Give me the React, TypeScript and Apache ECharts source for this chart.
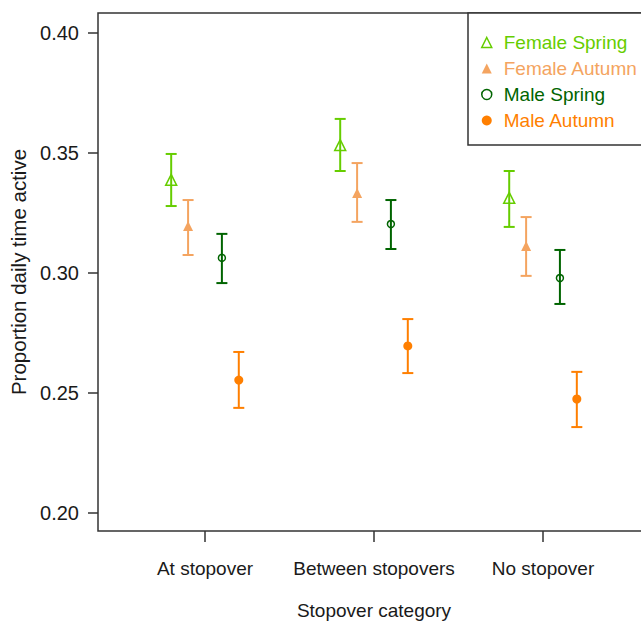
import React, { useEffect, useRef } from "react";
import * as echarts from "echarts";

const categories = ["At stopover", "Between stopovers", "No stopover"];
const seriesNames = ["Female Spring", "Female Autumn", "Male Spring", "Male Autumn"];
const seriesOffsets = [-0.2, -0.1, 0.1, 0.2];
const seriesColors = ["#66CD00", "#F4A460", "#006400", "#FF7F00"];
const seriesSymbols = ["triangle", "triangle", "circle", "circle"];
const seriesHollow = [true, false, true, false];
const seriesSymbolSizes = [11, 10, 7, 9];

// means, lower and upper error bounds per category
const femaleSpringMean = [0.3388, 0.3533, 0.3313];
const femaleSpringLow = [0.3279, 0.3425, 0.3192];
const femaleSpringHigh = [0.3496, 0.3642, 0.3425];

const femaleAutumnMean = [0.3196, 0.3333, 0.3113];
const femaleAutumnLow = [0.3075, 0.3213, 0.2988];
const femaleAutumnHigh = [0.3304, 0.3458, 0.3233];

const maleSpringMean = [0.3063, 0.3204, 0.2979];
const maleSpringLow = [0.2958, 0.31, 0.2871];
const maleSpringHigh = [0.3163, 0.3304, 0.3096];

const maleAutumnMean = [0.2554, 0.2696, 0.2475];
const maleAutumnLow = [0.2438, 0.2583, 0.2358];
const maleAutumnHigh = [0.2671, 0.2808, 0.2588];

const yTicks = [0.2, 0.25, 0.3, 0.35, 0.4];
const xTicks = [1, 2, 3];

const means = [femaleSpringMean, femaleAutumnMean, maleSpringMean, maleAutumnMean];
const lows = [femaleSpringLow, femaleAutumnLow, maleSpringLow, maleAutumnLow];
const highs = [femaleSpringHigh, femaleAutumnHigh, maleSpringHigh, maleAutumnHigh];

const FONT = "'Liberation Sans', Arial, sans-serif";
const AXIS_COLOR = "#333333";
const TEXT_COLOR = "#1a1a1a";
const FS = 19;

function markerStyle(s: number) {
  return {
    color: seriesHollow[s] ? "transparent" : seriesColors[s],
    borderColor: seriesColors[s],
    borderWidth: seriesHollow[s] ? 1.5 : 0,
    opacity: 1,
  };
}

export default function App() {
  const ref = useRef<HTMLDivElement>(null);
  useEffect(() => {
    if (!ref.current) return;
    const chart = echarts.init(ref.current, null, { renderer: "svg" });

    const errSeries = seriesNames.map((name, s) => ({
      type: "custom",
      name: name + " error",
      data: categories.map((_, i) => [i + 1 + seriesOffsets[s], lows[s][i], highs[s][i]]),
      encode: { x: 0, y: [1, 2] },
      z: 2,
      silent: true,
      renderItem: (params: any, api: any) => {
        const x = api.value(0);
        const lo = api.coord([x, api.value(1)]);
        const hi = api.coord([x, api.value(2)]);
        const cap = 5.5;
        const style = { stroke: seriesColors[s], lineWidth: 2, fill: "none" };
        return {
          type: "group",
          children: [
            { type: "line", shape: { x1: lo[0], y1: lo[1], x2: hi[0], y2: hi[1] }, style },
            { type: "line", shape: { x1: lo[0] - cap, y1: lo[1], x2: lo[0] + cap, y2: lo[1] }, style },
            { type: "line", shape: { x1: hi[0] - cap, y1: hi[1], x2: hi[0] + cap, y2: hi[1] }, style },
          ],
        };
      },
    }));

    const pointSeries = seriesNames.map((name, s) => ({
      type: "scatter",
      name,
      data: categories.map((_, i) => [i + 1 + seriesOffsets[s], means[s][i]]),
      symbol: seriesSymbols[s],
      symbolSize: seriesSymbolSizes[s],
      itemStyle: markerStyle(s),
      z: 3,
      silent: true,
    }));

    chart.setOption({
      animation: false,
      backgroundColor: "#ffffff",
      grid: {
        left: 98,
        top: 13,
        width: 552,
        height: 518,
        outerBoundsMode: "none",
        containLabel: false,
        show: true,
        borderColor: AXIS_COLOR,
        borderWidth: 1.5,
        backgroundColor: "transparent",
      },
      graphic: [
        {
          type: "rect",
          shape: { x: 468, y: 13, width: 200, height: 132 },
          style: { fill: "#ffffff", stroke: AXIS_COLOR, lineWidth: 1.5 },
          z: 10,
        },
      ],
      legend: {
        orient: "vertical",
        left: 481,
        top: 33,
        padding: 0,
        itemWidth: 10,
        itemHeight: 10,
        itemGap: 7,
        z: 20,
        selectedMode: false,
        textStyle: { fontFamily: FONT, fontSize: FS, lineHeight: 17, padding: [0, 0, 0, 7] },
        data: seriesNames.map((n, s) => ({
          name: n,
          icon: seriesSymbols[s],
          textStyle: { color: seriesColors[s] },
          itemStyle: markerStyle(s),
        })),
      },
      xAxis: {
        type: "value",
        min: 0.367,
        max: 3.633,
        name: "Stopover category",
        nameLocation: "middle",
        nameGap: 70,
        nameTextStyle: { fontFamily: FONT, fontSize: FS, color: TEXT_COLOR },
        splitLine: { show: false },
        axisLine: { show: false },
        axisTick: {
          show: true,
          length: 11,
          customValues: xTicks,
          lineStyle: { color: AXIS_COLOR, width: 1.5 },
        },
        axisLabel: {
          customValues: xTicks,
          margin: 28,
          fontFamily: FONT,
          fontSize: FS,
          color: TEXT_COLOR,
          formatter: (v: number) => categories[Math.round(v) - 1] ?? "",
        },
      },
      yAxis: {
        type: "value",
        min: 0.1925,
        max: 0.40833,
        name: "Proportion daily time active",
        nameLocation: "middle",
        nameGap: 68,
        nameTextStyle: { fontFamily: FONT, fontSize: 20.5, color: TEXT_COLOR },
        splitLine: { show: false },
        axisLine: { show: false },
        axisTick: {
          show: true,
          length: 10,
          customValues: yTicks,
          lineStyle: { color: AXIS_COLOR, width: 1.5 },
        },
        axisLabel: {
          customValues: yTicks,
          margin: 19,
          fontFamily: FONT,
          fontSize: 20,
          color: TEXT_COLOR,
          formatter: (v: number) => v.toFixed(2),
        },
      },
      series: [...errSeries, ...pointSeries],
    });
    return () => chart.dispose();
  }, []);
  return (
    <div
      ref={ref}
      style={{ position: "fixed", left: 0, top: 0, width: 641, height: 623, background: "#fff" }}
    />
  );
}
